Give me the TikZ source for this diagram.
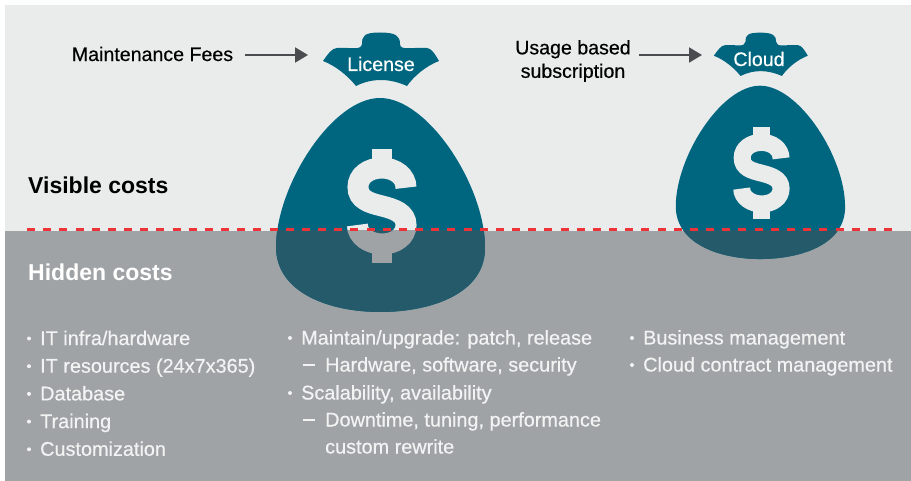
\documentclass[tikz,border=0pt]{standalone}
\usepackage{fontspec}
\setmainfont{Liberation Sans}
\newfontfamily\mediumfont{Liberation Sans}[FakeBold=0.45]
\usetikzlibrary{arrows.meta}

\definecolor{panelTop}{HTML}{EAECEC}
\definecolor{panelLow}{HTML}{A0A3A6}
\definecolor{bagTeal}{HTML}{006680}
\definecolor{bagDark}{HTML}{255A6B}
\definecolor{dashRed}{HTML}{EE3338}
\definecolor{arrowGrey}{HTML}{4A4D50}
\definecolor{itemWhite}{HTML}{F2F4F4}

\tikzset{
	plainlabel/.style={font=\mediumfont\fontsize{19.6}{23.5}\selectfont, text=black, inner sep=0pt, align=center},
	headlabel/.style={font=\bfseries\fontsize{23}{26}\selectfont, inner sep=0pt, anchor=base west},
	baglabel/.style={font=\mediumfont\fontsize{19.6}{22}\selectfont, text=white, inner sep=0pt, anchor=base},
	costitem/.style={font=\mediumfont\fontsize{19.85}{22}\selectfont, text=itemWhite, inner sep=0pt, anchor=base west},
	costarrow/.style={draw=arrowGrey, line width=2pt, -{Triangle[length=13pt,width=15pt]}},
}

% #1,#2 top of the bag, #3 scale, #4 bag colour, #5 sign colour
\newcommand{\moneybag}[5]{
	\begin{scope}[shift={(#1,#2)}, scale=#3]
		\fill[#4] (0,0) .. controls (-48,0) and (-104,88) .. (-104,149)
			.. controls (-104,195) and (-50,214) .. (0,214)
			.. controls (52,214) and (106,195) .. (105,149)
			.. controls (105,88) and (48,0) .. (0,0) -- cycle;		%body
		\fill[#4] (-57,-37) .. controls (-52,-44) and (-48,-50) .. (-43,-50)
			.. controls (-30,-51) and (-19,-47) .. (-18,-54)
			.. controls (-18,-62) and (-16,-65.5) .. (0,-65.5)
			.. controls (16,-65.5) and (20,-62) .. (20,-54)
			.. controls (20,-47) and (32,-51) .. (47,-50)
			.. controls (51,-50) and (55,-44) .. (59,-37)
			.. controls (46,-32) and (34,-22) .. (27,-12)
			.. controls (9,-20) and (-8,-20) .. (-24,-12)
			.. controls (-32,-22) and (-44,-32) .. (-57,-37) -- cycle;	%knot
		%dollar sign
		\draw[#5, line width=21pt*#3] (26,89.7)
			.. controls (26,78) and (15,70) .. (2,70)
			.. controls (-12,70) and (-22,78) .. (-22,89)
			.. controls (-22,102) and (-10,105) .. (2,108)
			.. controls (14,111) and (26,115) .. (26,127)
			.. controls (26,138) and (16,146) .. (2,146)
			.. controls (-11,146) and (-22.6,138) .. (-22.6,127);
		\fill[#5] (-8.3,51.3) rectangle (12,65);
		\fill[#5] (-8.3,151) rectangle (12,164.7);
	\end{scope}
}

\begin{document}
\begin{tikzpicture}[x=1pt,y=-1pt]
	\useasboundingbox (0,0) rectangle (911,481);
	\fill[panelTop] (5,5) rectangle (911,231);
	\fill[panelLow] (5,231) rectangle (911,481);

	%bags
	\moneybag{380}{98}{1}{bagTeal}{panelTop}
	\moneybag{760}{85.7}{0.81}{bagTeal}{panelTop}
	\begin{scope}
		\clip (5,231) rectangle (911,481);
		\moneybag{380}{98}{1}{bagDark}{panelLow}
		\moneybag{760}{85.7}{0.81}{bagDark}{panelLow}
	\end{scope}

	%dashed line
	\coordinate (lineleft) at (27,230);
	\coordinate (lineright) at (893,230);
	\draw[dashRed, line width=3pt, dash pattern=on 8pt off 8.17pt] (lineleft) -- (lineright);

	%labels
	\node[baglabel] (license) at (381,71) {License};
	\node[baglabel] (cloud) at (759,66) {Cloud};
	\node[plainlabel] (fees) at (152.5,54) {Maintenance Fees};
	\node[plainlabel] (usage) at (573,61) {Usage based\\subscription};
	\node[headlabel, text=black] (visible) at (28,194) {Visible costs};
	\node[headlabel, text=white] (hidden) at (28,281) {Hidden costs};

	%arrows
	\coordinate (feesstart) at (245,55);
	\coordinate (feestip) at (308,55);
	\coordinate (usagestart) at (639,55);
	\coordinate (usagetip) at (702,55);
	\draw[costarrow] (feesstart) -- (feestip);
	\draw[costarrow] (usagestart) -- (usagetip);

	%left column
	\foreach \txt [count=\i from 0] in {IT infra/hardware, IT resources (24x7x365), Database, Training, Customization} {
		\fill[itemWhite] (29,338.5+\i*27.7) circle (2pt);
		\node[costitem] (left\i) at (40,345+\i*27.7) {\txt};
	}
	%middle column
	\node[costitem] (mid0) at (301,344.5) {Maintain/upgrade: patch, release};
	\node[costitem] (mid1) at (325,371.5) {Hardware, software, security};
	\node[costitem] (mid2) at (301,399.5) {Scalability, availability};
	\node[costitem] (mid3) at (325,426.5) {Downtime, tuning, performance};
	\node[costitem] (mid4) at (325,453.5) {custom rewrite};
	\foreach \y in {338,393}
		\fill[itemWhite] (290,\y) circle (2pt);
	\foreach \y in {365,420}
		\draw[itemWhite, line width=1.6pt] (303,\y)--(315,\y);
	%right column
	\node[costitem] (right0) at (643,344.5) {Business management};
	\node[costitem] (right1) at (643,371.5) {Cloud contract management};
	\foreach \y in {338,365}
		\fill[itemWhite] (632,\y) circle (2pt);
\end{tikzpicture}
\end{document}
